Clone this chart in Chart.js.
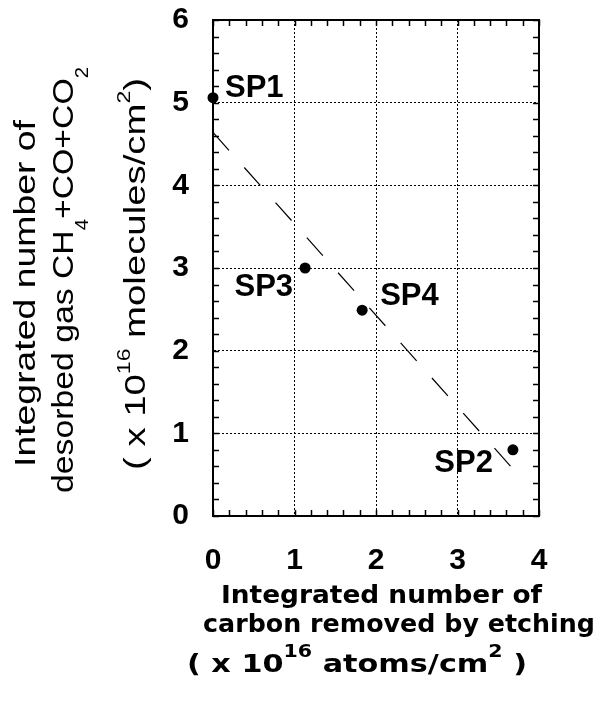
<!DOCTYPE html>
<html>
<head>
<meta charset="utf-8">
<title>Desorbed gas vs carbon removed by etching</title>
<script src="https://cdn.jsdelivr.net/npm/chart.js@4.4.0/dist/chart.umd.min.js"></script>
<style>
  html, body { margin: 0; padding: 0; background: #fff; }
  canvas { display: block; }
</style>
</head>
<body>
<canvas id="canvas" width="597" height="703"></canvas>
<script>
// Samples (x 10^16 per cm2)
const sampleNames = ["SP1", "SP2", "SP3", "SP4"];
const carbonRemoved = [0.0, 3.68, 1.13, 1.83];
const desorbedGas = [5.06, 0.8, 3.0, 2.49];

// dashed guide line, two end points
const fitX = [0, 3.68];
const fitY = [4.64, 0.57];

const xTicks = [0, 1, 2, 3, 4];
const yTicks = [0, 1, 2, 3, 4, 5, 6];

// axis titles: [text, "" | "sub" | "sup"]
const xTitleLines = [
  [["Integrated number of", ""]],
  [["carbon removed by etching", ""]],
  [["( x 10", ""], ["16", "sup"], [" atoms/cm", ""], ["2", "sup"], [" )", ""]],
];
const yTitleLines = [
  [["Integrated number of", ""]],
  [["desorbed gas CH", ""], ["4", "sub"], ["+CO+CO", ""], ["2", "sub"]],
  [["( x 10", ""], ["16", "sup"], [" molecules/cm", ""], ["2", "sup"], [")", ""]],
];

// where things sit on the page
const labelOffsets = [
  { dx: 12, dy: -1, align: "left" },
  { dx: -20, dy: 22, align: "right" },
  { dx: -12, dy: 28, align: "right" },
  { dx: 18, dy: -5, align: "left" },
];
const xTitleLayout = [
  { left: 221, baseline: 603, width: 321 },
  { left: 203, baseline: 632, width: 392 },
  { left: 187, baseline: 672, width: 340 },
];
const yTitleLayout = [
  { bottom: 467, baseline: 35, width: 347 },
  { bottom: 493, baseline: 73, width: 426 },
  { bottom: 470, baseline: 145, width: 392 },
];

// draws one line of text with sub/superscripts, stretched to a given width
function drawRichLine(ctx, parts, style, target) {
  const fontFor = (kind) =>
    style.weight + " " + (kind ? style.scriptSize : style.size) + "px " + style.family;
  let natural = 0;
  parts.forEach(([t, kind]) => {
    ctx.font = fontFor(kind);
    natural += ctx.measureText(t).width;
  });
  ctx.scale(target / natural, 1);
  let x = 0;
  parts.forEach(([t, kind]) => {
    ctx.font = fontFor(kind);
    let dy = 0;
    if (kind === "sub") dy = style.subShift;
    if (kind === "sup") dy = -style.supShift;
    ctx.fillText(t, x, dy);
    x += ctx.measureText(t).width;
  });
}

const xTitleStyle = { family: "'DejaVu Sans'", weight: "bold", size: 25, scriptSize: 17, subShift: 6, supShift: 15 };
const yTitleStyle = { family: "'Liberation Sans'", weight: "normal", size: 30, scriptSize: 18, subShift: 15, supShift: 15 };

const framePlugin = {
  id: "frame",
  afterDatasetsDraw(chart) {
    const ctx = chart.ctx;
    const area = chart.chartArea;
    const xs = chart.scales.x;
    const ys = chart.scales.y;
    ctx.save();
    ctx.strokeStyle = "#000";

    // small inward ticks every 0.2 on all four sides
    ctx.lineWidth = 1.5;
    ctx.beginPath();
    for (let i = 0; i <= 20; i++) {
      const px = Math.round(xs.getPixelForValue(i * 0.2)) + 0.5;
      ctx.moveTo(px, area.bottom);
      ctx.lineTo(px, area.bottom - 6);
      ctx.moveTo(px, area.top);
      ctx.lineTo(px, area.top + 6);
    }
    for (let i = 0; i <= 30; i++) {
      const py = Math.round(ys.getPixelForValue(i * 0.2)) + 0.5;
      ctx.moveTo(area.left, py);
      ctx.lineTo(area.left + 6, py);
      ctx.moveTo(area.right, py);
      ctx.lineTo(area.right - 6, py);
    }
    ctx.stroke();

    // top and right edges of the box
    ctx.lineWidth = 2;
    ctx.beginPath();
    ctx.moveTo(area.left, area.top);
    ctx.lineTo(area.right, area.top);
    ctx.lineTo(area.right, area.bottom);
    ctx.stroke();

    // sample names next to the points
    ctx.fillStyle = "#000";
    ctx.font = "bold 31px 'Liberation Sans'";
    ctx.textBaseline = "alphabetic";
    sampleNames.forEach((name, i) => {
      const off = labelOffsets[i];
      const px = xs.getPixelForValue(carbonRemoved[i]);
      const py = ys.getPixelForValue(desorbedGas[i]);
      ctx.textAlign = off.align;
      ctx.fillText(name, px + off.dx, py + off.dy);
    });
    ctx.restore();
  },
  afterDraw(chart) {
    const ctx = chart.ctx;
    ctx.save();
    ctx.fillStyle = "#000";
    ctx.textAlign = "left";
    ctx.textBaseline = "alphabetic";
    xTitleLines.forEach((parts, i) => {
      const pos = xTitleLayout[i];
      ctx.save();
      ctx.translate(pos.left, pos.baseline);
      drawRichLine(ctx, parts, xTitleStyle, pos.width);
      ctx.restore();
    });
    yTitleLines.forEach((parts, i) => {
      const pos = yTitleLayout[i];
      ctx.save();
      ctx.translate(pos.baseline, pos.bottom);
      ctx.rotate(-Math.PI / 2);
      drawRichLine(ctx, parts, yTitleStyle, pos.width);
      ctx.restore();
    });
    ctx.restore();
  },
};

const tickFont = { family: "'Liberation Sans'", size: 30, weight: "bold" };

const chart = new Chart(document.getElementById("canvas"), {
  type: "scatter",
  data: {
    datasets: [
      {
        data: fitX.map((x, i) => ({ x: x, y: fitY[i] })),
        showLine: true,
        borderColor: "#000",
        borderWidth: 1.2,
        borderDash: [24, 23],
        pointRadius: 0,
        fill: false,
      },
      {
        data: carbonRemoved.map((x, i) => ({ x: x, y: desorbedGas[i] })),
        backgroundColor: "#000",
        borderColor: "#000",
        borderWidth: 0,
        pointRadius: 5.5,
        pointHoverRadius: 5.5,
        clip: false,
      },
    ],
  },
  options: {
    responsive: false,
    devicePixelRatio: 1,
    animation: false,
    layout: { padding: { left: 150, top: 20, right: 58, bottom: 127 } },
    plugins: { legend: { display: false }, tooltip: { enabled: false } },
    scales: {
      x: {
        type: "linear",
        min: 0,
        max: 4,
        afterBuildTicks: (scale) => { scale.ticks = xTicks.map((v) => ({ value: v })); },
        afterFit: (scale) => {
          scale.height = 60;
          scale.paddingLeft = 0;
          scale.paddingRight = 0;
        },
        ticks: { color: "#000", font: tickFont, padding: 27, maxRotation: 0 },
        grid: { color: "#000", lineWidth: 1, drawTicks: false },
        border: { display: true, color: "#000", width: 2, dash: [2, 2] },
      },
      y: {
        type: "linear",
        min: 0,
        max: 6,
        afterBuildTicks: (scale) => { scale.ticks = yTicks.map((v) => ({ value: v })); },
        afterFit: (scale) => {
          scale.width = 63;
          scale.paddingTop = 0;
          scale.paddingBottom = 0;
        },
        ticks: { color: "#000", font: tickFont, padding: 24 },
        grid: { color: "#000", lineWidth: 1, drawTicks: false },
        border: { display: true, color: "#000", width: 2, dash: [2, 2] },
      },
    },
  },
  plugins: [framePlugin],
});
</script>
</body>
</html>
